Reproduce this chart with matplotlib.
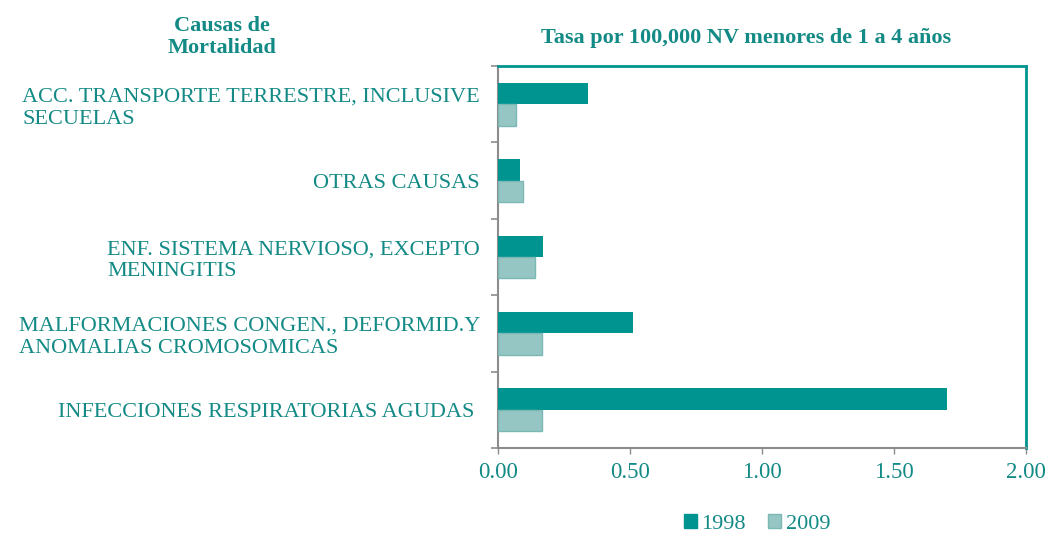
import numpy as np
import matplotlib.pyplot as plt
from matplotlib.patches import Patch

causas = ['ACC. TRANSPORTE TERRESTRE, INCLUSIVE\nSECUELAS',
          'OTRAS CAUSAS',
          'ENF. SISTEMA NERVIOSO, EXCEPTO\nMENINGITIS',
          'MALFORMACIONES CONGEN., DEFORMID.Y\nANOMALIAS CROMOSOMICAS',
          'INFECCIONES RESPIRATORIAS AGUDAS ']
tasa_1998 = [0.34, 0.085, 0.17, 0.51, 1.70]
tasa_2009 = [0.07, 0.095, 0.14, 0.165, 0.165]
xticks = [0.0, 0.5, 1.0, 1.5, 2.0]

teal = '#009490'
light = '#96c6c3'
txt = '#138a85'
gray = '#8c8c8c'

plt.rcParams['font.family'] = ['Liberation Serif', 'DejaVu Serif']

fig = plt.figure(figsize=(10.45, 5.34), dpi=100)
ax = fig.add_axes([498 / 1045, 1 - 448 / 534, 528 / 1045, 382 / 534])

y = np.arange(len(causas))[::-1]
h = 0.28
ax.barh(y + h / 2, tasa_1998, height=h, color=teal, zorder=3)
ax.barh(y - h / 2, tasa_2009, height=h, color=light, edgecolor='#79b8b4',
        linewidth=1, zorder=3)

ax.set_xlim(0, 2.0)
ax.set_ylim(-0.5, len(causas) - 0.5)
ax.set_xticks(xticks)
ax.set_xticklabels(['%.2f' % v for v in xticks])
ax.set_yticks(y)
ax.set_yticklabels(causas, ha='right', multialignment='left', linespacing=1.2)
ax.set_yticks(np.arange(len(causas) + 1) - 0.5, minor=True)
ax.tick_params(axis='y', which='major', length=0, pad=13, labelsize=16, labelcolor=txt)
ax.tick_params(axis='y', which='minor', length=5, width=1.2, color=gray)
ax.tick_params(axis='x', length=4, width=1, color=gray, labelsize=16.5, labelcolor=txt, pad=6)

ax.spines['left'].set_color(gray)
ax.spines['bottom'].set_color(gray)
ax.spines['left'].set_linewidth(1.5)
ax.spines['bottom'].set_linewidth(1.5)
ax.spines['top'].set_color(teal)
ax.spines['right'].set_color(teal)
ax.spines['top'].set_linewidth(2)
ax.spines['right'].set_linewidth(2)

fig.text(746 / 1045, 1 - 38 / 534, 'Tasa por 100,000 NV menores de 1 a 4 años',
         ha='center', va='center', fontsize=16, fontweight='bold', color=txt)
fig.text(222 / 1045, 1 - 37 / 534, 'Causas de\nMortalidad', ha='center', va='center',
         fontsize=16, fontweight='bold', color=txt, linespacing=1.1)

handles = [Patch(color=teal, label='1998'), Patch(facecolor=light, edgecolor='#79b8b4', label='2009')]
leg = fig.legend(handles=handles, loc='center', bbox_to_anchor=(757 / 1045, 1 - 524 / 534),
                 ncol=2, frameon=False, fontsize=16, handlelength=0.6, handleheight=0.6,
                 handletextpad=0.2, columnspacing=1.0)
for t in leg.get_texts():
    t.set_color(txt)

fig.savefig('out.png', dpi=100)
